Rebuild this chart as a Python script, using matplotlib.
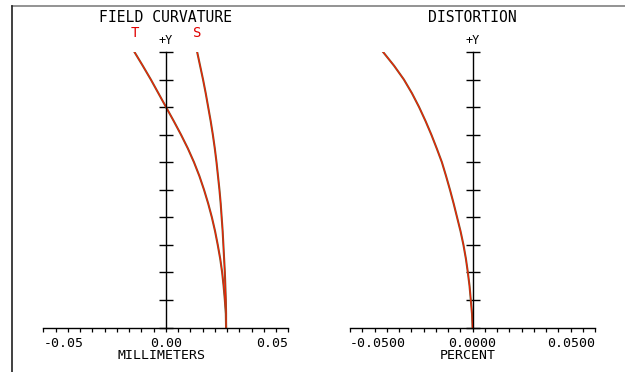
import matplotlib
matplotlib.use("Agg")
import matplotlib.pyplot as plt
from matplotlib.lines import Line2D
import numpy as np

# relative field (0 = axis, 1 = full field), every 0.05
campo = [0.00, 0.05, 0.10, 0.15, 0.20, 0.25, 0.30, 0.35, 0.40, 0.45, 0.50,
         0.55, 0.60, 0.65, 0.70, 0.75, 0.80, 0.85, 0.90, 0.95, 1.00]

# field curvature, millimeters
curv_t = [0.0246, 0.0245, 0.0241, 0.0236, 0.0230, 0.0222, 0.0212, 0.0201, 0.0188, 0.0173, 0.0156,
          0.0137, 0.0115, 0.0090, 0.0062, 0.0032, 0.0001, -0.0030, -0.0061, -0.0094, -0.0128]
curv_s = [0.0246, 0.0246, 0.0245, 0.0243, 0.0241, 0.0238, 0.0235, 0.0232, 0.0228, 0.0224, 0.0219,
          0.0213, 0.0207, 0.0200, 0.0192, 0.0183, 0.0173, 0.0163, 0.0152, 0.0140, 0.0128]

# distortion, percent
dist = [0.0, -0.0002, -0.0007, -0.0012, -0.0019, -0.0027, -0.0037, -0.0049, -0.0063, -0.0077, -0.0092,
        -0.0108, -0.0125, -0.0146, -0.0168, -0.0192, -0.0218, -0.0247, -0.0280, -0.0320, -0.0365]

rango_mm = 0.05
rango_pct = 0.05

plt.rcParams["font.family"] = "DejaVu Sans Mono"
plt.rcParams["font.size"] = 9.5

fig = plt.figure(figsize=(6.25, 3.72), dpi=100)
fig.patch.set_facecolor("white")

# marco de la ventana
fig.add_artist(Line2D([12 / 625, 1], [1 - 6 / 372, 1 - 6 / 372], color="#808080", lw=1.2))
fig.add_artist(Line2D([12 / 625, 12 / 625], [0, 1 - 6 / 372], color="#202020", lw=1.2))


def preparar_eje(ax, rango, etiquetas, xlabel, titulo, xlabel_x):
    ax.set_xlim(-rango, rango)
    ax.set_ylim(0, 1)
    for lado in ["top", "right"]:
        ax.spines[lado].set_visible(False)
    ax.spines["left"].set_position(("data", 0))
    ax.spines["bottom"].set_position(("data", 0))
    ax.spines["left"].set_linewidth(1.0)
    ax.spines["bottom"].set_linewidth(1.0)
    ax.set_yticks(np.arange(0, 1.01, 0.1))
    ax.set_yticklabels([])
    ax.tick_params(axis="y", direction="inout", length=9.5, width=1.0)
    ax.set_xticks([-rango, 0, rango])
    ax.set_xticklabels(etiquetas)
    ax.set_xticks(np.linspace(-rango, rango, 21), minor=True)
    ax.tick_params(axis="x", which="both", direction="out", length=3, width=0.9, pad=4)
    lbls = ax.get_xticklabels()
    lbls[0].set_horizontalalignment("left")
    lbls[-1].set_horizontalalignment("right")
    ax.text(xlabel_x, -0.103, xlabel, ha="center", va="center", transform=ax.transAxes)
    ax.text(0, 1.041, "+Y", ha="center", va="center", fontsize=8.5)
    ax.text(0, 1.127, titulo, ha="center", va="center", fontsize=10.6)
    ax.patch.set_alpha(0)


ax1 = fig.add_axes([43.3 / 625, 1 - 327.5 / 372, 245 / 625, 275.5 / 372])
preparar_eje(ax1, rango_mm, ["-0.05", "0.00", "0.05"], "MILLIMETERS", "FIELD CURVATURE", 0.482)
for serie in [curv_t, curv_s]:
    ax1.plot(serie, campo, color="#7a5a30", lw=1.5)
    ax1.plot(serie, campo, color="#ff1a00", lw=0.7)
ax1.text(curv_t[-1], 1.069, "T", color="#e00000", ha="center", va="center", fontsize=10)
ax1.text(curv_s[-1], 1.069, "S", color="#e00000", ha="center", va="center", fontsize=10)

ax2 = fig.add_axes([350 / 625, 1 - 327.5 / 372, 245 / 625, 275.5 / 372])
preparar_eje(ax2, rango_pct, ["-0.0500", "0.0000", "0.0500"], "PERCENT", "DISTORTION", 0.480)
ax2.plot(dist, campo, color="#7a5a30", lw=1.5)
ax2.plot(dist, campo, color="#ff1a00", lw=0.7)

fig.savefig("out.png", dpi=100)
